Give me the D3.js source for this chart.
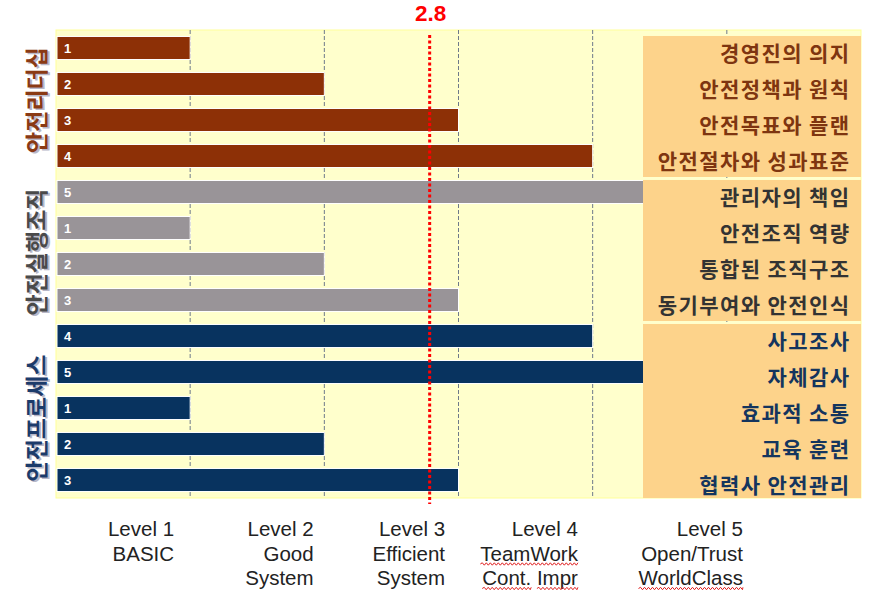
<!DOCTYPE html>
<html><head><meta charset="utf-8">
<script src="https://cdn.jsdelivr.net/npm/d3@7"></script>
<style>
html,body{margin:0;padding:0;background:#fff;}
svg{display:block;}
</style></head>
<body>
<svg id="chart" width="878" height="592"></svg>
<script>
// ---- data ----
const groups = ["안전리더십", "안전실행조직", "안전프로세스"];
const groupSizes = [4, 4, 5];
const items = ["경영진의 의지","안전정책과 원칙","안전목표와 플랜","안전절차와 성과표준",
               "관리자의 책임","안전조직 역량","통합된 조직구조","동기부여와 안전인식",
               "사고조사","자체감사","효과적 소통","교육 훈련","협력사 안전관리"];
const values = [1,2,3,4, 5,1,2,3, 4,5,1,2,3];
const levels = [1,2,3,4,5];
const levelLabels = [["Level 1","BASIC"],["Level 2","Good","System"],["Level 3","Efficient","System"],
                     ["Level 4","TeamWork","Cont. Impr"],["Level 5","Open/Trust","WorldClass"]];
const flaggedWords = ["TeamWork","Cont.","Impr","WorldClass"];
const average = 2.8;

// ---- styles / layout ----
const barColors = ["#8D3006","#999498","#08335F"];
const textColors = ["#7E3510","#333333","#14355E"];
const groupTextColors = ["#8A3A14","#4A4A4A","#1C3B6A"];
const groupLabelShift = [-2, 6, 10];
const levelLabelShift = [-0.12,-0.08,-0.1,-0.11,0.12];
const plot = {left:56, right:861, top:30, bottom:498};

const svg = d3.select("#chart");
const x = d3.scaleLinear().domain([0,6]).range([plot.left, plot.right]);
const y = d3.scaleBand().domain(d3.range(items.length)).range([plot.top, plot.bottom]).paddingInner(0.36).paddingOuter(0.18);

const groupOf = [];
groupSizes.forEach((n,g)=>{for(let i=0;i<n;i++) groupOf.push(g);});
const starts = groupSizes.map((n,g)=>d3.sum(groupSizes.slice(0,g)));
const step = y.step();

// background
svg.append("rect").attr("x",plot.left).attr("y",plot.top)
  .attr("width",plot.right-plot.left).attr("height",plot.bottom-plot.top)
  .attr("fill","#FFFFCC").attr("stroke","#FFFF99").attr("stroke-width",1);

// grid
svg.append("g").selectAll("line").data(levels).join("line")
  .attr("x1",d=>x(d)).attr("x2",d=>x(d)).attr("y1",plot.top).attr("y2",plot.bottom)
  .attr("stroke","#6E7A8A").attr("stroke-width",1).attr("stroke-dasharray","4,2");

// bars
svg.append("g").selectAll("rect").data(values).join("rect")
  .attr("x",x(0)+1).attr("y",(d,i)=>y(i))
  .attr("width",d=>x(d)-x(0)-1).attr("height",y.bandwidth())
  .attr("fill",(d,i)=>barColors[groupOf[i]])
  .attr("stroke","#fff").attr("stroke-width",1);

svg.append("g").selectAll("text").data(values).join("text")
  .attr("x",x(0)+8).attr("y",(d,i)=>y(i)+y.bandwidth()/2)
  .attr("dominant-baseline","central")
  .attr("font-family","Liberation Sans, Arial, sans-serif").attr("font-weight","bold")
  .attr("font-size",13).attr("fill","#fff").text(d=>d);

// right panels
const panelG = svg.append("g");
groups.forEach((g,gi)=>{
  const first = starts[gi], last = first + groupSizes[gi]-1;
  const top = y(first)-0.5;
  const bottom = Math.min(plot.top + step*(last+1) + 3, plot.bottom);
  panelG.append("rect").attr("x",643).attr("y",top)
    .attr("width",plot.right-643).attr("height",bottom-top)
    .attr("fill","#FDD38B");
});

// item labels
svg.append("g").selectAll("text").data(items).join("text")
  .attr("x",850.5).attr("y",(d,i)=>y(i)+y.bandwidth()/2+3.5)
  .attr("text-anchor","end").attr("dominant-baseline","central")
  .attr("font-family","Noto Sans CJK KR, sans-serif").attr("font-weight","bold")
  .attr("letter-spacing","1.4px")
  .attr("font-size",21).attr("fill",(d,i)=>textColors[groupOf[i]]).text(d=>d);

// group labels (rotated)
const gl = svg.append("g");
groups.forEach((g,gi)=>{
  const first = starts[gi], last = first + groupSizes[gi]-1;
  const cy = (y(first) + y(last) + y.bandwidth())/2 + groupLabelShift[gi];
  [["#B8B8C8",1.5],[groupTextColors[gi],0]].forEach(([c,o])=>{
    gl.append("text").attr("transform",`translate(${35+o},${cy+o}) rotate(-90)`)
      .attr("text-anchor","middle").attr("dominant-baseline","central")
      .attr("font-family","Noto Sans CJK KR, sans-serif").attr("font-weight","bold")
      .attr("font-size",23).attr("fill",c).text(g);
  });
});

// average line
svg.append("line").attr("x1",x(average)-2).attr("x2",x(average)-2)
  .attr("y1",plot.top+5).attr("y2",plot.bottom+6)
  .attr("stroke","#FF0000").attr("stroke-width",3).attr("stroke-dasharray","3,2.5");
svg.append("text").attr("x",x(average)-1).attr("y",21).attr("text-anchor","middle")
  .attr("font-family","Liberation Sans, Arial, sans-serif").attr("font-weight","bold")
  .attr("font-size",22.5).attr("fill","#FF0000").text(average.toFixed(1));

// bottom level labels
const lg = svg.append("g");
levelLabels.forEach((lines,li)=>{
  const ax = x(levels[li]+levelLabelShift[li]);
  lines.forEach((line,k)=>{
    const t = lg.append("text").attr("x",ax).attr("y",536+k*24.5).attr("text-anchor","end")
      .attr("font-family","Liberation Sans, Arial, sans-serif").attr("font-size",20.5)
      .attr("fill","#222").text(line);
    // spell-check squiggles
    const node = t.node();
    let idx = 0;
    line.split(" ").forEach(w=>{
      const s = line.indexOf(w, idx); idx = s + w.length;
      if(flaggedWords.includes(w)){
        const x0 = node.getStartPositionOfChar(s).x;
        const x1 = node.getEndPositionOfChar(s+w.length-1).x;
        const yy = 536+k*24.5+3.5;
        let p = `M${x0},${yy}`;
        for(let xx=x0, up=true; xx<x1; xx+=2, up=!up) p += ` L${Math.min(xx+2,x1)},${yy+(up?-1.2:1.2)}`;
        lg.append("path").attr("d",p).attr("fill","none").attr("stroke","#E02020").attr("stroke-width",1);
      }
    });
  });
});
</script>
</body></html>
